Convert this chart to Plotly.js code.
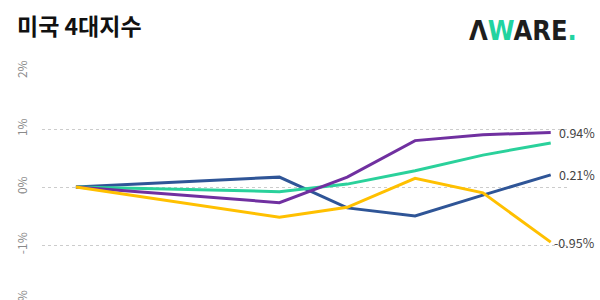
<!DOCTYPE html>
<html>
<head>
<meta charset="utf-8">
<script src="https://cdn.plot.ly/plotly-3.0.1.min.js"></script>
<style>
html,body{margin:0;padding:0;overflow:hidden;background:#fff;width:600px;height:300px;}
#chart{width:600px;height:330px;}
</style>
</head>
<body>
<div id="chart"></div>
<script>
// Day index (gap after first point)
const days = [0, 3, 4, 5, 6, 7];
const seriesNames = ["Dow", "S&P500", "Nasdaq", "Russell"];
const blueVals   = [0, 0.17, -0.36, -0.50, -0.14, 0.21];
const greenVals  = [0, -0.08, 0.05, 0.28, 0.55, 0.76];
const purpleVals = [0, -0.27, 0.17, 0.80, 0.90, 0.94];
const yellowVals = [0, -0.52, -0.35, 0.15, -0.10, -0.95];
const colors = ["#2f5597", "#2ad19b", "#7030a0", "#ffc000"];
const endLabels = [
  {vals: purpleVals, text: "0.94%"},
  {vals: blueVals, text: "0.21%"},
  {vals: yellowVals, text: "-0.95%"}
];
const yTicks = [-2, -1, 0, 1, 2];
const yTickText = ["-2%", "-1%", "0%", "1%", "2%"];

const traces = [blueVals, greenVals, purpleVals, yellowVals].map((v, i) => ({
  x: days, y: v, type: "scatter", mode: "lines", name: seriesNames[i],
  line: {color: colors[i], width: 3}, hoverinfo: "skip"
}));

const font = "'Noto Sans CJK KR', 'Noto Sans', sans-serif";
const annotations = endLabels.map(l => ({
  x: 1, y: l.vals[l.vals.length - 1], xref: "paper", yref: "y",
  text: l.text, showarrow: false, xanchor: "right", yanchor: "middle",
  xshift: 30, font: {family: font, size: 12.5, color: "#444"}
}));
annotations.push({
  xref: "paper", yref: "paper", x: 1.0, y: 1, xanchor: "right", yanchor: "bottom",
  xshift: 12, yshift: 23,
  text: "<b>Λ<span style='color:#22d3a0'>W</span>ARE<span style='color:#22d3a0'>.</span></b>",
  showarrow: false, font: {family: "'DejaVu Sans Condensed', 'DejaVu Sans', sans-serif", size: 27, color: "#1e1e1e"}
});

const layout = {
  width: 600, height: 330,
  margin: {l: 42, r: 33, t: 71, b: 27},
  paper_bgcolor: "#fff", plot_bgcolor: "#fff",
  showlegend: false,
  title: {text: "<b>미국 4대지수</b>", x: 17/600, xref: "container", xanchor: "left",
          y: 1 - 27/330, yref: "container", yanchor: "middle",
          font: {family: font, size: 23, color: "#111"}},
  xaxis: {range: [-0.5, 7.24], showgrid: false, zeroline: false, showticklabels: false, showline: false, fixedrange: true},
  yaxis: {range: [-2, 2], tickvals: yTicks, ticktext: yTickText, tickangle: -90,
          showgrid: true, gridcolor: "#cccccc", griddash: "dot", gridwidth: 1,
          zeroline: false, showline: false, ticks: "", ticklabelstandoff: 12,
          tickfont: {family: font, size: 12, color: "#8a8a8a"}},
  annotations: annotations
};
Plotly.newPlot("chart", traces, layout, {displayModeBar: false, staticPlot: true});
</script>
</body>
</html>
